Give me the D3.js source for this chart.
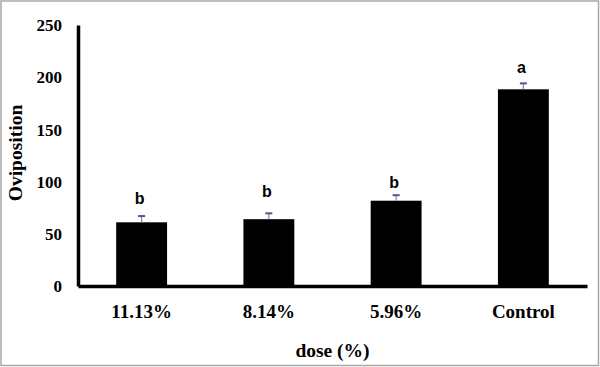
<!DOCTYPE html>
<html>
<head>
<meta charset="utf-8">
<script src="https://cdn.jsdelivr.net/npm/d3@7"></script>
<style>
  html, body { margin: 0; padding: 0; background: #fff; }
  svg { display: block; }
</style>
</head>
<body>
<svg id="chart" width="600" height="367"></svg>
<script>
const categories = ["11.13%", "8.14%", "5.96%", "Control"];
const values = [61, 64, 81.7, 188.4];
const errors = [6, 5.6, 5.3, 5.7];
const letters = ["b", "b", "b", "a"];
const letterPos = [79, 85.5, 94, 204];
const yTicks = [0, 50, 100, 150, 200, 250];

const svg = d3.select("#chart");
const W = 600, H = 367;

// outer border
svg.append("rect").attr("x", 1).attr("y", 1).attr("width", W - 2.5).attr("height", H - 2.5)
  .attr("fill", "#fff").attr("stroke", "#a8a8a8").attr("stroke-width", 1.5);

const x = d3.scaleBand().domain(categories).range([78, 587]).paddingInner(0.6).paddingOuter(0.3);
const y = d3.scaleLinear().domain([0, 250]).range([286, 25]);

const serif = "'Liberation Serif', 'Times New Roman', serif";

// bars
svg.selectAll("rect.bar").data(values).enter().append("rect")
  .attr("class", "bar")
  .attr("x", (d, i) => x(categories[i]))
  .attr("width", x.bandwidth())
  .attr("y", d => y(d))
  .attr("height", d => y(0) - y(d))
  .attr("fill", "#000");

// error bars (upper only)
const eb = svg.selectAll("g.err").data(values).enter().append("g").attr("class", "err");
eb.append("line")
  .attr("x1", (d, i) => x(categories[i]) + x.bandwidth() / 2)
  .attr("x2", (d, i) => x(categories[i]) + x.bandwidth() / 2)
  .attr("y1", d => y(d))
  .attr("y2", (d, i) => y(d + errors[i]))
  .attr("stroke", "#8a80a0").attr("stroke-width", 1.2);
eb.append("line")
  .attr("x1", (d, i) => x(categories[i]) + x.bandwidth() / 2 - 3.5)
  .attr("x2", (d, i) => x(categories[i]) + x.bandwidth() / 2 + 3.5)
  .attr("y1", (d, i) => y(d + errors[i]))
  .attr("y2", (d, i) => y(d + errors[i]))
  .attr("stroke", "#5e4f8a").attr("stroke-width", 2);

// significance letters
svg.selectAll("text.sig").data(letters).enter().append("text")
  .attr("class", "sig")
  .attr("x", (d, i) => x(categories[i]) + x.bandwidth() / 2 - 2)
  .attr("y", (d, i) => y(letterPos[i]))
  .attr("text-anchor", "middle")
  .attr("font-family", "'Liberation Sans', Arial, sans-serif")
  .attr("font-weight", "bold")
  .attr("font-size", 16)
  .attr("fill", "#000")
  .text(d => d);

// y axis
const yAxis = d3.axisLeft(y).tickValues(yTicks).tickSize(0).tickPadding(16).tickFormat(d3.format("d"));
const gy = svg.append("g").attr("transform", "translate(78,0)").call(yAxis);
gy.select(".domain").attr("stroke", "#000").attr("stroke-width", 3.5);
gy.selectAll("text").attr("font-family", serif).attr("font-weight", "bold")
  .attr("font-size", 17).attr("fill", "#000").attr("dy", "0.34em");

// x axis
const xAxis = d3.axisBottom(x).tickSize(0).tickPadding(22);
const gx = svg.append("g").attr("transform", "translate(0,286)").call(xAxis);
gx.select(".domain").attr("stroke", "#000").attr("stroke-width", 3.5);
gx.selectAll("text").attr("font-family", serif).attr("font-weight", "bold")
  .attr("font-size", 19).attr("fill", "#000").attr("dy", "0.55em");

// axis titles
svg.append("text")
  .attr("x", 332.5).attr("y", 357)
  .attr("text-anchor", "middle")
  .attr("font-family", serif).attr("font-weight", "bold").attr("font-size", 19.5)
  .text("dose (%)");

svg.append("text")
  .attr("transform", "translate(22,153) rotate(-90)")
  .attr("text-anchor", "middle")
  .attr("font-family", serif).attr("font-weight", "bold").attr("font-size", 19.5)
  .text("Oviposition");
</script>
</body>
</html>
